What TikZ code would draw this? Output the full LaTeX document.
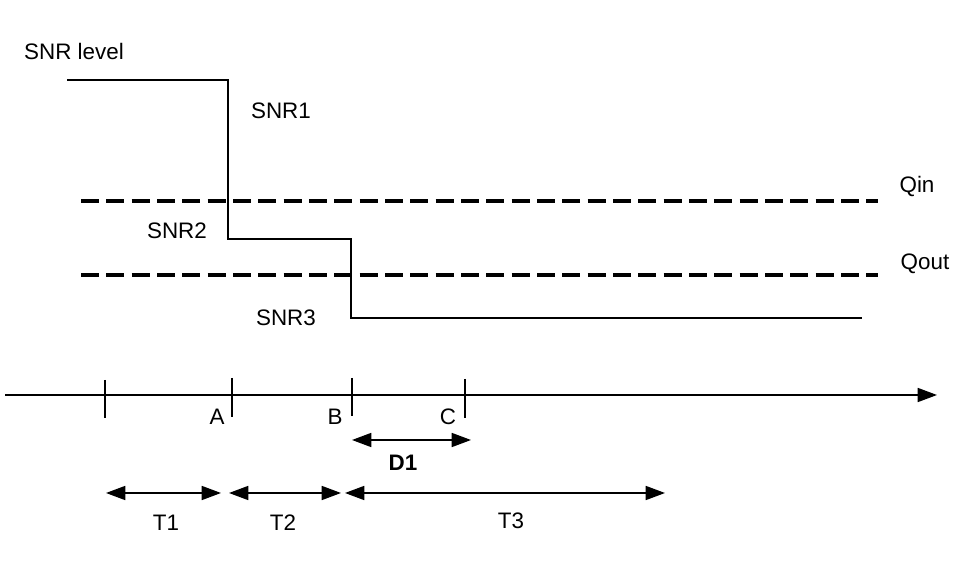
\documentclass[tikz,border=0pt]{standalone}
\usepackage{fontspec}
\setmainfont{Liberation Sans}
\usetikzlibrary{arrows.meta}
\begin{document}
\begin{tikzpicture}[x=0.75pt,y=-0.75pt,
  lbl/.style={inner sep=0pt,font=\fontsize{16.8}{18}\selectfont},
  thin line/.style={line width=1.3pt},
  qline/.style={line width=2.6pt,dash pattern=on 13.5pt off 5.5pt},
  tick/.style={line width=1.3pt},
  dimarrow/.style={line width=1.3pt,{Triangle[length=14.5pt,width=10.5pt]}-{Triangle[length=14.5pt,width=10.5pt]}}]
\useasboundingbox (0,0) rectangle (958,580);
% SNR staircase
\coordinate (s0) at (67,80);
\coordinate (s1) at (228,80);
\coordinate (s2) at (228,239);
\coordinate (s3) at (351,239);
\coordinate (s4) at (351,318);
\coordinate (s5) at (862,318);
\draw[thin line] (s0) -- (s1) -- (s2) -- (s3) -- (s4) -- (s5);
\node[lbl] (snrlevel) at (74,51) {SNR level};
\node[lbl] (snr1) at (281,111) {SNR1};
\node[lbl] (snr2) at (177,231) {SNR2};
\node[lbl] (snr3) at (286,318) {SNR3};
% thresholds
\coordinate (qi0) at (81,201);
\coordinate (qi1) at (878,201);
\coordinate (qo0) at (81,275);
\coordinate (qo1) at (878,275);
\draw[qline] (qi0) -- (qi1);
\draw[qline,line width=3.2pt] (qo0) -- (qo1);
\node[lbl] (qin) at (917,187) {Qin};
\node[lbl] (qout) at (925,264) {Qout};
% time axis
\coordinate (ax0) at (5,395);
\coordinate (ax1) at (937,395);
\draw[thin line,-{Triangle[length=14.5pt,width=10.5pt]}] (ax0) -- (ax1);
\coordinate (t0a) at (105,380); \coordinate (t0b) at (105,418);
\coordinate (tAa) at (232,378); \coordinate (tAb) at (232,417);
\coordinate (tBa) at (352,378); \coordinate (tBb) at (352,416);
\coordinate (tCa) at (465,379); \coordinate (tCb) at (465,418);
\draw[tick] (t0a) -- (t0b);
\draw[tick] (tAa) -- (tAb);
\draw[tick] (tBa) -- (tBb);
\draw[tick] (tCa) -- (tCb);
\node[lbl] (A) at (217,417) {A};
\node[lbl] (B) at (335,417) {B};
\node[lbl] (C) at (448,417) {C};
% D1
\coordinate (d0) at (352,440);
\coordinate (d1) at (471,440);
\draw[dimarrow] (d0) -- (d1);
\node[lbl,font=\fontsize{16.8}{18}\selectfont\bfseries] (D1) at (403,463) {D1};
% T arrows
\coordinate (T1a) at (106,493); \coordinate (T1b) at (221,493);
\coordinate (T2a) at (229,493); \coordinate (T2b) at (341,493);
\coordinate (T3a) at (345,493); \coordinate (T3b) at (665,493);
\draw[dimarrow] (T1a) -- (T1b);
\draw[dimarrow] (T2a) -- (T2b);
\draw[dimarrow] (T3a) -- (T3b);
\node[lbl] (T1) at (166,523) {T1};
\node[lbl] (T2) at (283,523) {T2};
\node[lbl] (T3) at (511,521) {T3};
\end{tikzpicture}
\end{document}
